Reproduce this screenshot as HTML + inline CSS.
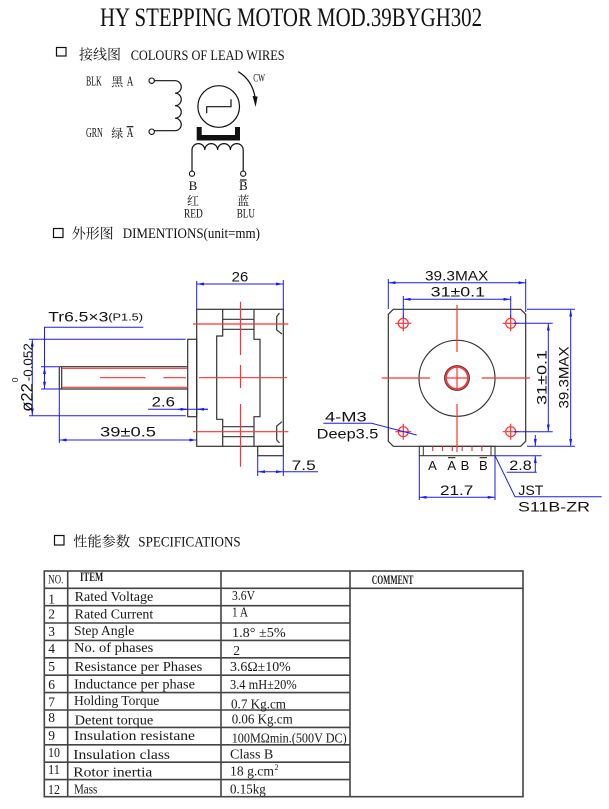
<!DOCTYPE html>
<html><head><meta charset="utf-8"><style>
html,body{margin:0;padding:0;background:#fff;}
svg{display:block;}
</style></head><body>
<svg width="609" height="809" viewBox="0 0 609 809" xmlns="http://www.w3.org/2000/svg">
<defs>
<marker id="ar" viewBox="0 0 7 3" refX="7" refY="1.5" markerWidth="7" markerHeight="3" markerUnits="userSpaceOnUse" orient="auto-start-reverse"><path d="M0,0 L7,1.5 L0,3 z" fill="#1a1aff"/></marker>
</defs>
<rect width="609" height="809" fill="#fff"/>

<!-- Title -->
<text x="100" y="26" font-family="Liberation Serif, serif" font-size="26.5" textLength="382" lengthAdjust="spacingAndGlyphs" fill="#111">HY STEPPING MOTOR MOD.39BYGH302</text>

<!-- Section 1 heading -->
<rect x="56.5" y="47.5" width="9.5" height="8.5" fill="none" stroke="#111" stroke-width="1.2"/>
<text x="79" y="59.5" font-family="Liberation Serif, 'Noto Serif CJK SC', serif" font-size="14" textLength="42" lengthAdjust="spacingAndGlyphs" fill="#111">接线图</text>
<text x="130.7" y="60" font-family="Liberation Serif, serif" font-size="15" textLength="154" lengthAdjust="spacingAndGlyphs" fill="#111">COLOURS OF LEAD WIRES</text>

<!-- Wiring diagram -->
<g font-family="Liberation Serif, 'Noto Serif CJK SC', serif" fill="#111">
<text x="86" y="85.7" font-size="13.5" textLength="15.7" lengthAdjust="spacingAndGlyphs">BLK</text>
<text x="111.2" y="86" font-size="12">黑</text>
<text x="126.7" y="85.7" font-size="13.5" textLength="6.6" lengthAdjust="spacingAndGlyphs">A</text>
<text x="86" y="137" font-size="13.5" textLength="16.7" lengthAdjust="spacingAndGlyphs">GRN</text>
<text x="111.2" y="137.3" font-size="12">绿</text>
<text x="126.7" y="137" font-size="13.5" textLength="6.6" lengthAdjust="spacingAndGlyphs">A</text>
<text x="253.3" y="81.7" font-size="12" textLength="11.7" lengthAdjust="spacingAndGlyphs">CW</text>
<text x="193" y="190" font-size="13" text-anchor="middle">B</text>
<text x="193" y="205" font-size="12" text-anchor="middle">红</text>
<text x="184" y="217.7" font-size="13" textLength="18.7" lengthAdjust="spacingAndGlyphs">RED</text>
<text x="243.3" y="190" font-size="13" text-anchor="middle">B</text>
<text x="243.3" y="205" font-size="12" text-anchor="middle">蓝</text>
<text x="236.7" y="217.7" font-size="13" textLength="18.3" lengthAdjust="spacingAndGlyphs">BLU</text>
</g>
<g stroke="#111" stroke-width="1.2" fill="none">
<line x1="126.7" y1="126.7" x2="133.3" y2="126.7"/>
<line x1="240" y1="180" x2="246.6" y2="180"/>
<path d="M154.4,80.7 H175 A6.25,6.25 0 0 1 175,93.2 A6.25,6.25 0 0 1 175,105.7 A6.25,6.25 0 0 1 175,118.2 A6.25,6.25 0 0 1 175,130.7 H154.4"/>
<path d="M192,171 V150 A6.4,6.4 0 0 1 204.8,150 A6.4,6.4 0 0 1 217.6,150 A6.4,6.4 0 0 1 230.4,150 A6.4,6.4 0 0 1 243.2,150 V171"/>
<circle cx="218.7" cy="106.5" r="20.8"/>
<polyline points="206.7,113.3 206.7,106.7 231,106.7 231,99.3"/>
<path d="M238.3,71.7 Q252,80 255,97"/>
</g>
<polygon points="252.6,96 257.6,96.6 255.6,107" fill="#111"/>
<path d="M196.7,127 H201.7 V135 H235 V127 H240 V140.5 H196.7 Z" fill="#111"/>
<g stroke="#111" stroke-width="1.1" fill="#fff">
<circle cx="151.7" cy="80.7" r="2.7"/>
<circle cx="151.7" cy="131.7" r="2.7"/>
<circle cx="192" cy="173.7" r="2.6"/>
<circle cx="243.2" cy="173.7" r="2.6"/>
</g>

<!-- Section 2 heading -->
<rect x="53.5" y="228.5" width="9.5" height="9" fill="none" stroke="#111" stroke-width="1.2"/>
<text x="71.7" y="238.5" font-family="Liberation Serif, 'Noto Serif CJK SC', serif" font-size="14" textLength="42" lengthAdjust="spacingAndGlyphs" fill="#111">外形图</text>
<text x="122.7" y="238" font-family="Liberation Serif, serif" font-size="15" textLength="137.3" lengthAdjust="spacingAndGlyphs" fill="#111">DIMENTIONS(unit=mm)</text>

<!-- Side view: black outline -->
<g stroke="#333" stroke-width="1.2" fill="none">
<rect x="196.7" y="309.3" width="86.6" height="137"/>
<rect x="187.7" y="339.3" width="9" height="77.4"/>
<rect x="257.7" y="446.3" width="25.6" height="9.4"/>
<path d="M59.3,366.7 H187.7 M59.3,389 H187.7 M59.3,366.7 V389 M61.7,367 V389"/>
<polyline points="222.7,309.3 222.7,336 216.7,336 216.7,419.3 222.7,419.3 222.7,446.3"/>
<polyline points="254,309.3 254,339.3 260,339.3 260,416.7 254,416.7 254,446.3"/>
<path d="M222.7,319.3 H254 M222.7,329.3 H254 M222.7,426.7 H254 M222.7,436.7 H254"/>
<polyline points="279.5,313 276.7,316.7 276.7,330 282,334"/>
<polyline points="282,421.7 276.7,426 276.7,440 279.5,443"/>
</g>
<!-- Side view: red center lines -->
<g stroke="#f33" stroke-width="1.2" fill="none">
<path d="M193,324 H288.3 M193,431.7 H288.3 M199,377.7 H287 M100,377.7 H145.7 M163.3,377.7 H186 M240.5,301.7 V355 M240.5,365 V388 M240.5,404 V466.7 M62.5,368.3 H187.7 M62.5,387.3 H187.7"/>
</g>
<!-- Side view: blue dimensions -->
<g stroke="#1a1aff" stroke-width="1" fill="none">
<line x1="196.7" y1="281" x2="196.7" y2="309"/>
<line x1="283.3" y1="280" x2="283.3" y2="309"/>
<line x1="197" y1="284" x2="283" y2="284" marker-start="url(#ar)" marker-end="url(#ar)"/>
<polyline points="143.3,327.3 44.5,327.3 44.5,366.7"/>
<line x1="44.5" y1="367" x2="44.5" y2="388.7" marker-start="url(#ar)" marker-end="url(#ar)"/>
<line x1="41" y1="366.7" x2="59" y2="366.7"/>
<line x1="41" y1="389" x2="59" y2="389"/>
<line x1="32.3" y1="339.6" x2="32.3" y2="415.4" marker-start="url(#ar)" marker-end="url(#ar)"/>
<line x1="29" y1="339.3" x2="185.7" y2="339.3"/>
<line x1="29" y1="415.7" x2="185.7" y2="415.7"/>
<line x1="148" y1="409.3" x2="208" y2="409.3"/>
<line x1="178" y1="409.3" x2="187.5" y2="409.3" marker-end="url(#ar)"/>
<line x1="208" y1="409.3" x2="197" y2="409.3" marker-end="url(#ar)"/>
<line x1="59.6" y1="440" x2="196.4" y2="440" marker-start="url(#ar)" marker-end="url(#ar)"/>
<line x1="59.3" y1="389" x2="59.3" y2="443"/>
<line x1="257.7" y1="456" x2="257.7" y2="476"/>
<line x1="283.3" y1="456" x2="283.3" y2="476"/>
<line x1="258" y1="471.7" x2="283" y2="471.7" marker-start="url(#ar)" marker-end="url(#ar)"/>
<line x1="283.3" y1="471.7" x2="318" y2="471.7"/>
</g>
<g font-family="Liberation Sans, sans-serif" fill="#111">
<text x="231.7" y="281.7" font-size="14" textLength="16.6" lengthAdjust="spacingAndGlyphs">26</text>
<text x="48.3" y="321.7" font-size="14" textLength="60" lengthAdjust="spacingAndGlyphs">Tr6.5×3</text>
<text x="108.3" y="320.5" font-size="10" textLength="34.7" lengthAdjust="spacingAndGlyphs">(P1.5)</text>
<text x="151.7" y="406.7" font-size="14" textLength="23.3" lengthAdjust="spacingAndGlyphs">2.6</text>
<text x="100" y="436.7" font-size="14" textLength="56" lengthAdjust="spacingAndGlyphs">39±0.5</text>
<text x="291.7" y="470" font-size="14" textLength="24" lengthAdjust="spacingAndGlyphs">7.5</text>
<g transform="translate(32.3,411.7) rotate(-90)">
<text x="0" y="0" font-size="17" textLength="28.5" lengthAdjust="spacingAndGlyphs">ø22</text>
<text x="29.5" y="-14.2" font-size="8.5">0</text>
<text x="30.5" y="0" font-size="12.5" textLength="38" lengthAdjust="spacingAndGlyphs">-0.052</text>
</g>
</g>

<!-- Front view -->
<path d="M393.3,309.3 H520.7 L525.7,314.3 V441.3 L520.7,446.3 H393.3 L388.3,441.3 V314.3 Z" stroke="#333" fill="none" stroke-width="1.2"/>
<circle cx="457" cy="378.3" r="38" stroke="#333" fill="none" stroke-width="1.2"/>
<circle cx="457" cy="378" r="12.4" stroke="#333" fill="none" stroke-width="1"/>
<rect x="419.3" y="446.3" width="75.7" height="9.4" stroke="#333" fill="none" stroke-width="1.1"/>
<g stroke="#333" stroke-width="1">
<line x1="423.3" y1="446.3" x2="423.3" y2="455.7"/>
<line x1="491" y1="446.3" x2="491" y2="455.7"/>
</g>
<g stroke="#f33" stroke-width="1.2" fill="none">
<circle cx="457" cy="378" r="11" stroke-width="1.8"/>
<circle cx="403.3" cy="323.3" r="5"/>
<circle cx="510.7" cy="323.3" r="5"/>
<circle cx="403.3" cy="431.7" r="5"/>
<circle cx="510.7" cy="431.7" r="5"/>
<path d="M395.3,323.3 H411.3 M403.3,315.3 V331.3 M502.7,323.3 H518.7 M510.7,315.3 V331.3 M395.3,431.7 H411.3 M403.3,423.7 V439.7 M502.7,431.7 H518.7 M510.7,423.7 V439.7"/>
<path d="M381.7,378 H430 M445,378 H469 M481.7,378 H530 M457,305 V352 M457,366 V390 M457,404 V452"/>
<path d="M432.7,446.5 V451 M442.5,446.5 V451 M452.3,446.5 V451 M462.2,446.5 V451 M472,446.5 V451 M481.8,446.5 V451"/>
</g>
<g stroke="#1a1aff" stroke-width="1" fill="none">
<line x1="388.3" y1="279" x2="388.3" y2="309"/>
<line x1="525.7" y1="279" x2="525.7" y2="312"/>
<line x1="388.6" y1="282.7" x2="525.4" y2="282.7" marker-start="url(#ar)" marker-end="url(#ar)"/>
<line x1="403.3" y1="296" x2="403.3" y2="318"/>
<line x1="510.7" y1="296" x2="510.7" y2="318"/>
<line x1="403.6" y1="299.3" x2="510.4" y2="299.3" marker-start="url(#ar)" marker-end="url(#ar)"/>
<line x1="514" y1="323.3" x2="552.7" y2="323.3"/>
<line x1="514" y1="431.7" x2="552.7" y2="431.7"/>
<line x1="548.3" y1="323.6" x2="548.3" y2="431.4" marker-start="url(#ar)" marker-end="url(#ar)"/>
<line x1="527" y1="309.3" x2="575" y2="309.3"/>
<line x1="527" y1="446.3" x2="575" y2="446.3"/>
<line x1="570.7" y1="309.6" x2="570.7" y2="446" marker-start="url(#ar)" marker-end="url(#ar)"/>
<line x1="495" y1="455.7" x2="541.7" y2="455.7"/>
<line x1="535.3" y1="435" x2="535.3" y2="446" marker-end="url(#ar)"/>
<line x1="535.3" y1="472.3" x2="535.3" y2="456" marker-end="url(#ar)"/>
<line x1="506.7" y1="472.3" x2="536.7" y2="472.3"/>
<line x1="419.3" y1="456" x2="419.3" y2="500"/>
<line x1="495" y1="456" x2="495" y2="500"/>
<line x1="419.6" y1="497.3" x2="494.7" y2="497.3" marker-start="url(#ar)" marker-end="url(#ar)"/>
<polyline points="495,455.7 515,496.7 601.7,496.7"/>
<polyline points="323.3,423.3 371.7,423.3 416.7,435"/>
</g>
<g font-family="Liberation Sans, sans-serif" fill="#111">
<text x="425" y="280.7" font-size="14" textLength="63.3" lengthAdjust="spacingAndGlyphs">39.3MAX</text>
<text x="430.7" y="296.5" font-size="14" textLength="54.3" lengthAdjust="spacingAndGlyphs">31±0.1</text>
<text x="325" y="421.7" font-size="14" textLength="41.7" lengthAdjust="spacingAndGlyphs">4-M3</text>
<text x="316.7" y="438.5" font-size="14" textLength="61.6" lengthAdjust="spacingAndGlyphs">Deep3.5</text>
<text x="509.3" y="470" font-size="14" textLength="22.4" lengthAdjust="spacingAndGlyphs">2.8</text>
<text x="440" y="495" font-size="14" textLength="33.3" lengthAdjust="spacingAndGlyphs">21.7</text>
<text x="518.3" y="495" font-size="14" textLength="25" lengthAdjust="spacingAndGlyphs">JST</text>
<text x="518" y="511.7" font-size="14" textLength="72" lengthAdjust="spacingAndGlyphs">S11B-ZR</text>
<text transform="translate(546.7,377.5) rotate(-90)" text-anchor="middle" font-size="14" textLength="55" lengthAdjust="spacingAndGlyphs">31±0.1</text>
<text transform="translate(568.3,377.5) rotate(-90)" text-anchor="middle" font-size="14" textLength="62" lengthAdjust="spacingAndGlyphs">39.3MAX</text>
<text x="432.5" y="470" font-size="13" text-anchor="middle">A</text>
<text x="451.7" y="470" font-size="13" text-anchor="middle">A</text>
<text x="465" y="470" font-size="13" text-anchor="middle">B</text>
<text x="483.3" y="470" font-size="13" text-anchor="middle">B</text>
</g>
<g stroke="#111" stroke-width="1">
<line x1="448" y1="457.7" x2="455.4" y2="457.7"/>
<line x1="479.6" y1="457.7" x2="487" y2="457.7"/>
</g>

<!-- Section 3 heading -->
<rect x="54.5" y="535.5" width="9.5" height="9.5" fill="none" stroke="#111" stroke-width="1.2"/>
<text x="73.3" y="546.5" font-family="Liberation Serif, 'Noto Serif CJK SC', serif" font-size="14" textLength="56.7" lengthAdjust="spacingAndGlyphs" fill="#111">性能参数</text>
<text x="138.3" y="546.7" font-family="Liberation Serif, serif" font-size="15" textLength="102.4" lengthAdjust="spacingAndGlyphs" fill="#111">SPECIFICATIONS</text>

<!-- Table -->
<g stroke="#444" stroke-width="1.6" fill="none">
<rect x="44.3" y="571" width="478.7" height="225.7"/>
<line x1="67.7" y1="571" x2="67.7" y2="796.7"/>
<line x1="221" y1="571" x2="221" y2="796.7"/>
<line x1="350" y1="571" x2="350" y2="796.7"/>
<line x1="44.3" y1="588.3" x2="523" y2="588.3"/>
<path d="M44.3,605.7 H350 M44.3,623 H350 M44.3,640.4 H350 M44.3,657.8 H350 M44.3,675.2 H350 M44.3,692.6 H350 M44.3,710 H350 M44.3,727.4 H350 M44.3,744.8 H350 M44.3,762.2 H350 M44.3,779.6 H350"/>
</g>
<g font-family="Liberation Serif, serif" font-size="13.5" fill="#1a1a1a">
<text x="48.3" y="583.3" font-size="12.5" textLength="15" lengthAdjust="spacingAndGlyphs">NO.</text>
<text x="80" y="581" font-size="12.5" font-weight="bold" textLength="23.3" lengthAdjust="spacingAndGlyphs">ITEM</text>
<text x="371.7" y="584" font-size="12.5" font-weight="bold" textLength="41.6" lengthAdjust="spacingAndGlyphs">COMMENT</text>

<text x="48.3" y="603.3">1</text>
<text x="48.3" y="618.3">2</text>
<text x="48.3" y="636">3</text>
<text x="48.3" y="653">4</text>
<text x="48.3" y="671">5</text>
<text x="48.3" y="689">6</text>
<text x="48.3" y="706.7">7</text>
<text x="48.3" y="722">8</text>
<text x="48.3" y="740">9</text>
<text x="48" y="757" textLength="12" lengthAdjust="spacingAndGlyphs">10</text>
<text x="48" y="774" textLength="12" lengthAdjust="spacingAndGlyphs">11</text>
<text x="48" y="794" textLength="12" lengthAdjust="spacingAndGlyphs">12</text>

<text x="74.7" y="601" textLength="78.6" lengthAdjust="spacingAndGlyphs">Rated Voltage</text>
<text x="74.7" y="618.3" textLength="78.6" lengthAdjust="spacingAndGlyphs">Rated Current</text>
<text x="74" y="635" textLength="60.3" lengthAdjust="spacingAndGlyphs">Step Angle</text>
<text x="74" y="652.2" textLength="79.3" lengthAdjust="spacingAndGlyphs">No. of phases</text>
<text x="74.7" y="671" textLength="127.6" lengthAdjust="spacingAndGlyphs">Resistance per Phases</text>
<text x="74" y="688.7" textLength="121" lengthAdjust="spacingAndGlyphs">Inductance per phase</text>
<text x="74" y="705.2" textLength="85.3" lengthAdjust="spacingAndGlyphs">Holding Torque</text>
<text x="74.7" y="724.5" textLength="78.6" lengthAdjust="spacingAndGlyphs">Detent torque</text>
<text x="74" y="740.2" textLength="121" lengthAdjust="spacingAndGlyphs">Insulation resistane</text>
<text x="73.3" y="759.2" textLength="96.7" lengthAdjust="spacingAndGlyphs">Insulation class</text>
<text x="73.3" y="776.7" textLength="79" lengthAdjust="spacingAndGlyphs">Rotor inertia</text>
<text x="74" y="793.3" textLength="23.3" lengthAdjust="spacingAndGlyphs">Mass</text>

<text x="232" y="600" textLength="23" lengthAdjust="spacingAndGlyphs">3.6V</text>
<text x="232" y="616.7" textLength="16" lengthAdjust="spacingAndGlyphs">1 A</text>
<text x="232" y="637" textLength="53.7" lengthAdjust="spacingAndGlyphs">1.8° ±5%</text>
<text x="233.3" y="655">2</text>
<text x="230" y="671" textLength="60.7" lengthAdjust="spacingAndGlyphs">3.6Ω±10%</text>
<text x="230" y="689" textLength="66.7" lengthAdjust="spacingAndGlyphs">3.4 mH±20%</text>
<text x="231" y="708.3" textLength="55" lengthAdjust="spacingAndGlyphs">0.7 Kg.cm</text>
<text x="231.7" y="723.3" textLength="61" lengthAdjust="spacingAndGlyphs">0.06 Kg.cm</text>
<text x="231.7" y="742.3" textLength="115" lengthAdjust="spacingAndGlyphs">100MΩmin.(500V DC)</text>
<text x="230" y="758.3" textLength="43.3" lengthAdjust="spacingAndGlyphs">Class B</text>
<text x="230" y="775.7" textLength="44" lengthAdjust="spacingAndGlyphs">18 g.cm</text>
<text x="274.5" y="770" font-size="8">2</text>
<text x="230" y="793.3" textLength="35.7" lengthAdjust="spacingAndGlyphs">0.15kg</text>
</g>
</svg>
</body></html>
